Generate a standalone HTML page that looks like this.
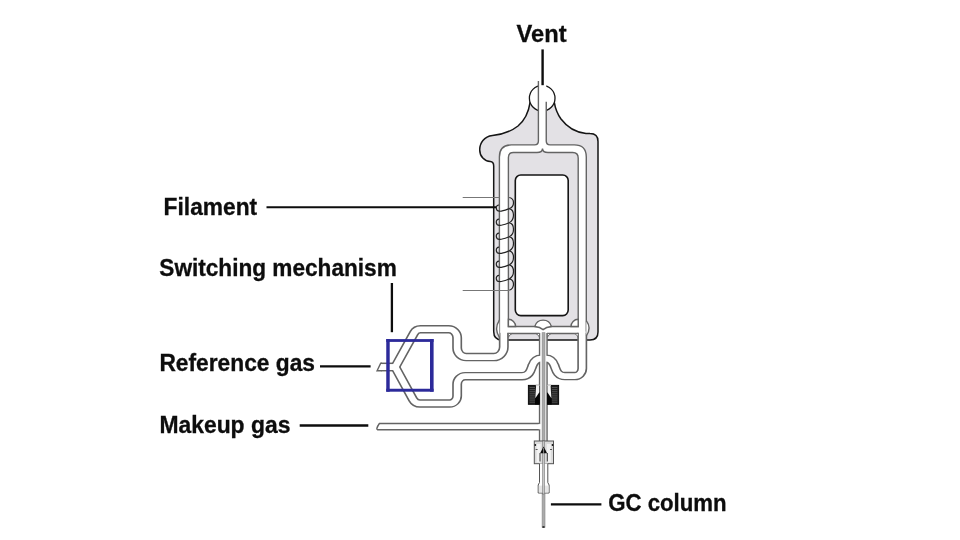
<!DOCTYPE html>
<html><head><meta charset="utf-8">
<style>
html,body{margin:0;padding:0;background:#fff;}
body{width:960px;height:540px;overflow:hidden;}
svg{display:block;}
text{font-family:"Liberation Sans",sans-serif;font-weight:bold;font-size:23px;fill:#0d0d0d;stroke:#0d0d0d;stroke-width:0.3px;}
</style></head>
<body>
<svg width="960" height="540" viewBox="0 0 960 540">
<rect width="960" height="540" fill="#fff"/>

<path d="M 530.1 102.3 C 528.8 111, 525 120, 518 126 C 511 131.5, 501 134.5, 492.5 135.5 C 484 136.5, 479.7 143, 479.7 149.7 C 479.7 156.5, 484.5 161.3, 490.3 161.6 C 492.6 161.8, 493.7 163.5, 493.7 166 L 493.7 331.5 Q 493.7 340 502 340 L 590 340 Q 598 340 598 332 L 598 141.5 Q 598 133.6 590 133.6 L 586 133.4 C 576 132.5, 567 127, 561 119 C 557.5 114, 555.2 108, 554.3 102.3 Z" fill="#e3e1e5" stroke="#151515" stroke-width="1.5"/>
<circle cx="542.2" cy="98.2" r="12.8" fill="#fff" stroke="#151515" stroke-width="1.3"/>
<!-- loop channel white region -->
<path d="M 499.4 333.5 V 157 Q 499.4 144.9 511.4 144.9 H 534.6 Q 538.4 144.9 538.4 141.1 V 80 H 546.25 V 141.1 Q 546.25 144.9 550.05 144.9 H 574.3 Q 586.3 144.9 586.3 157 V 333.5 Z" fill="#fff"/>
<path d="M 499.4 336 V 157 Q 499.4 144.9 511.4 144.9 H 534.6 Q 538.4 144.9 538.4 141.1 V 81 M 546.25 101.7 V 141.1 Q 546.25 144.9 550.05 144.9 H 574.3 Q 586.3 144.9 586.3 157 V 336 M 508.4 333.5 H 539.6 M 547 333.5 H 578.2" fill="none" stroke="#646464" stroke-width="1.4"/>
<!-- inner gray region -->
<path d="M 508.4 326.5 V 157.5 Q 508.4 152.5 513.4 152.5 H 537 Q 542.3 152.5 542.5 148.6 Q 542.7 152.5 548 152.5 H 572.7 Q 578.2 152.5 578.2 158 V 326.5 Z" fill="#e3e1e5" stroke="#646464" stroke-width="1.4"/>


<g fill="none" stroke="#646464" stroke-linejoin="round">
  <g transform="translate(500.0,0) scale(1.17,1) translate(-500.0,0)" stroke-width="8.5"><path d="M 503.25 332.70 L 503.25 347.10 C 503.25 352.62 499.42 357.10 494.70 357.10 L 471.07 357.10 C 466.82 357.10 463.38 353.07 463.38 348.10 L 463.38 337.75 C 463.38 333.06 460.12 329.25 456.11 329.25 L 432.09 329.25 C 429.75 329.25 427.60 330.73 426.47 333.12 L 410.43 367.05 L 398.29 367.05"/><path d="M 398.29 367.05 L 410.43 367.05 L 425.58 399.35 C 426.79 401.91 429.09 403.50 431.58 403.50 L 456.97 403.50 C 460.50 403.50 463.38 400.14 463.38 396.00 L 463.38 384.20 C 463.38 379.78 466.44 376.20 470.21 376.20 L 518.80 376.20 C 525.64 376.20 526.50 369.00 527.78 365.50 C 529.06 361.50 530.77 358.70 535.04 358.70"/><path d="M 570.30 332.70 L 570.30 368.60 C 570.30 372.74 567.43 376.10 563.89 376.10 L 555.47 376.10 C 548.63 376.10 547.78 369.00 546.50 365.50 C 545.21 361.50 543.50 358.70 539.32 358.70"/></g>
  <path d="M 543.3 333 V 441" stroke-width="8.9"/>
</g>
<g fill="none" stroke="#fff" stroke-linejoin="round">
  <g transform="translate(500.0,0) scale(1.17,1) translate(-500.0,0)" stroke-width="5.699999999999999"><path d="M 503.25 331.50 L 503.25 347.10 C 503.25 352.62 499.42 357.10 494.70 357.10 L 471.07 357.10 C 466.82 357.10 463.38 353.07 463.38 348.10 L 463.38 337.75 C 463.38 333.06 460.12 329.25 456.11 329.25 L 432.09 329.25 C 429.75 329.25 427.60 330.73 426.47 333.12 L 410.43 367.05 L 398.29 367.05"/><path d="M 398.29 367.05 L 410.43 367.05 L 425.58 399.35 C 426.79 401.91 429.09 403.50 431.58 403.50 L 456.97 403.50 C 460.50 403.50 463.38 400.14 463.38 396.00 L 463.38 384.20 C 463.38 379.78 466.44 376.20 470.21 376.20 L 518.80 376.20 C 525.64 376.20 526.50 369.00 527.78 365.50 C 529.06 361.50 530.77 358.70 535.04 358.70"/><path d="M 570.30 331.50 L 570.30 368.60 C 570.30 372.74 567.43 376.10 563.89 376.10 L 555.47 376.10 C 548.63 376.10 547.78 369.00 546.50 365.50 C 545.21 361.50 543.50 358.70 539.32 358.70"/></g>
  <path d="M 543.3 332 V 442" stroke-width="6.1"/>
</g>


<g fill="#fff" stroke="#646464" stroke-width="1.4">
  <path d="M 508.4 319.3 A 7.2 7.2 0 0 1 515.6 326.5 L 508.4 326.5 Z"/>
  <path d="M 578.2 319.3 A 7.2 7.2 0 0 0 571 326.5 L 578.2 326.5 Z"/>
  <path d="M 508.4 333.5 H 512.3 Q 509.5 334.5 508.4 337.3 Z" stroke-width="0.9"/>
  <path d="M 539.5 333.5 H 535.6 Q 538.4 334.5 539.5 337.3 Z" stroke-width="0.9"/>
  <path d="M 547.4 333.5 H 551.3 Q 548.5 334.5 547.4 337.3 Z" stroke-width="0.9"/>
  <path d="M 578.2 333.5 H 574.3 Q 577.1 334.5 578.2 337.3 Z" stroke-width="0.9"/>
  <path d="M 534.8 326.5 A 8.6 8.6 0 0 1 551.4 326.5 Q 546.2 327 543.1 329.6 Q 540 327 534.8 326.5 Z"/>
  <path d="M 499.4 320.1 Q 493.8 328.7 499.4 337.3"/>
  <path d="M 586.3 320.7 Q 591.9 328.3 586.3 335.9"/>
</g>

<rect x="515.3" y="175" width="52.9" height="140.6" rx="5.5" fill="#fff" stroke="#151515" stroke-width="1.6"/>

<path d="M 382 362.7 H 380.7 L 377.1 371.4 H 382 Z" fill="#fff"/>
<path d="M 382 363.3 H 380.7 L 377.1 370.8 H 382" fill="none" stroke="#646464" stroke-width="1.4"/>
<path d="M 539.5 423.5 H 379.4 Q 377.6 426 376.9 428.2 Q 376.6 429.8 378.6 429.8 H 539.5" fill="#fff" stroke="#646464" stroke-width="1.4"/>
<rect x="538.5" y="424.1" width="5" height="5.1" fill="#fff"/>

<rect x="542.1" y="332.7" width="2.9" height="194.6" fill="#ababab" stroke="#888" stroke-width="0.6"/><ellipse cx="543.5" cy="527" rx="1.3" ry="0.9" fill="#333"/>

<rect x="528.4" y="385.4" width="10.9" height="18.9" fill="#1e1e1e" stroke="#0a0a0a" stroke-width="1"/>
<rect x="547.5" y="385.4" width="11.1" height="18.9" fill="#1e1e1e" stroke="#0a0a0a" stroke-width="1"/>
<g stroke="#5a5a5a" stroke-width="0.8"><line x1="529.6" y1="387.5" x2="535" y2="387.5"/><line x1="552" y1="387.5" x2="557.4" y2="387.5"/><line x1="529.6" y1="389.6" x2="535" y2="389.6"/><line x1="552" y1="389.6" x2="557.4" y2="389.6"/><line x1="529.6" y1="391.7" x2="535" y2="391.7"/><line x1="552" y1="391.7" x2="557.4" y2="391.7"/><line x1="529.6" y1="393.8" x2="535" y2="393.8"/><line x1="552" y1="393.8" x2="557.4" y2="393.8"/><line x1="529.6" y1="395.9" x2="535" y2="395.9"/><line x1="552" y1="395.9" x2="557.4" y2="395.9"/><line x1="529.6" y1="398.0" x2="535" y2="398.0"/><line x1="552" y1="398.0" x2="557.4" y2="398.0"/><line x1="529.6" y1="400.1" x2="535" y2="400.1"/><line x1="552" y1="400.1" x2="557.4" y2="400.1"/><line x1="529.6" y1="402.2" x2="535" y2="402.2"/><line x1="552" y1="402.2" x2="557.4" y2="402.2"/></g>
<path d="M 535.2 398.3 L 537.3 396 L 539.6 392 V 404.4 H 535 Z" fill="#050505"/>
<path d="M 551.5 398.3 L 549.4 396 L 547.2 392 V 404.4 H 551.7 Z" fill="#050505"/>
<rect x="535.8" y="384.6" width="3.8" height="1.4" fill="#bbb"/>
<rect x="547.2" y="384.6" width="3.8" height="1.4" fill="#bbb"/>
<path d="M 536.1 385.6 L 539.3 385.6 L 539.3 392.3 L 535.3 398.2 L 535.8 391 Z" fill="#f4f4f4"/>
<path d="M 550.6 385.6 L 547.4 385.6 L 547.4 392.3 L 551.4 398.2 L 550.9 391 Z" fill="#f4f4f4"/>


<rect x="534.3" y="441" width="19.2" height="22.7" fill="#dcdcdc" stroke="#555" stroke-width="1"/>
<rect x="536.6" y="444" width="4" height="18.5" fill="#f3f3f3"/>
<rect x="546.8" y="444" width="4" height="18.5" fill="#f3f3f3"/>
<circle cx="535.3" cy="445" r="0.9" fill="#111"/>
<circle cx="552.5" cy="445" r="0.9" fill="#111"/>
<rect x="535.6" y="449" width="2" height="1" fill="#555"/>
<rect x="550" y="449" width="2" height="1" fill="#555"/>
<path d="M 539.5 463.6 V 482.5 L 538.2 485 V 493 H 549.1 V 485 L 547.8 482.5 V 463.6" fill="#fff" stroke="#555" stroke-width="1"/>
<rect x="538.8" y="485.6" width="9.7" height="6.9" fill="#e6e6e6"/>
<rect x="542.6" y="441" width="2" height="53" fill="#c8c8c8" stroke="#666" stroke-width="0.5"/>
<path d="M 543.6 446.4 L 540.1 453.3 H 547.1 Z" fill="#0a0a0a"/>
<line x1="543.6" y1="447.8" x2="543.6" y2="453.3" stroke="#d8d8d8" stroke-width="0.6"/>
<line x1="540" y1="453" x2="540" y2="461.5" stroke="#333" stroke-width="1"/>
<line x1="547.3" y1="453" x2="547.3" y2="461.5" stroke="#333" stroke-width="1"/>


<g fill="none" stroke-width="1">
  <line x1="462.7" y1="197.5" x2="499.5" y2="197.5" stroke="#777"/>
  <line x1="462.7" y1="290.5" x2="509" y2="290.5" stroke="#777"/>
</g>
<path d="M 509.3 197.5 C 514.9 198.6, 514.9 206.4, 509.3 208.6 M 509.3 208.6 C 514.9 210.0, 514.9 219.8, 509.3 222.7 M 509.3 222.7 C 514.9 224.1, 514.9 233.9, 509.3 236.7 M 509.3 236.7 C 514.9 238.1, 514.9 248.0, 509.3 250.8 M 509.3 250.8 C 514.9 252.2, 514.9 262.0, 509.3 264.8 M 509.3 264.8 C 514.9 266.2, 514.9 276.1, 509.3 278.9 M 509.3 278.9 C 514.9 280.0, 514.9 288.0, 509.3 290.3 M 509.3 208.6 C 505 210.2, 502 211.5, 499.4 211.2 M 499.4 211.2 C 495.3 211.2, 495.3 205.0, 499 205.0 M 509.3 222.7 C 505 224.3, 502 225.6, 499.4 225.3 M 499.4 225.3 C 495.3 225.3, 495.3 219.1, 499 219.1 M 509.3 236.7 C 505 238.3, 502 239.6, 499.4 239.3 M 499.4 239.3 C 495.3 239.3, 495.3 233.1, 499 233.1 M 509.3 250.8 C 505 252.4, 502 253.7, 499.4 253.4 M 499.4 253.4 C 495.3 253.4, 495.3 247.2, 499 247.2 M 509.3 264.8 C 505 266.4, 502 267.7, 499.4 267.4 M 499.4 267.4 C 495.3 267.4, 495.3 261.2, 499 261.2 M 509.3 278.9 C 505 280.5, 502 281.8, 499.4 281.5 M 499.4 281.5 C 495.3 281.5, 495.3 275.3, 499 275.3" fill="none" stroke="#222" stroke-width="1.2"/>


<g fill="#2c2a9a">
  <rect x="386.25" y="339.1" width="47.35" height="2.8"/>
  <rect x="386.25" y="388.75" width="47.35" height="2.95"/>
  <rect x="386.25" y="339" width="3.45" height="52.7"/>
  <rect x="430" y="339" width="3.6" height="52.7"/>
</g>


<g stroke="#0d0d0d" stroke-width="2">
  <line x1="542.6" y1="49.4" x2="542.6" y2="85.2" stroke-width="2.4"/>
  <line x1="266.5" y1="207.25" x2="496" y2="207.25" stroke-width="2.2"/>
  <line x1="391.9" y1="283" x2="391.9" y2="332.2" stroke-width="2.3"/>
  <line x1="320" y1="366.3" x2="370.6" y2="366.3" stroke-width="2.3"/>
  <line x1="299.7" y1="425.5" x2="368.3" y2="425.5" stroke-width="2.3"/>
  <line x1="550.9" y1="504.3" x2="601.4" y2="504.3" stroke-width="2.3"/>
</g>


<g style="filter:grayscale(1)">
<text x="516.6" y="41.9" textLength="50" lengthAdjust="spacingAndGlyphs">Vent</text>
<text x="163.6" y="215.1" textLength="93.6" lengthAdjust="spacingAndGlyphs">Filament</text>
<text x="159.3" y="276.3" textLength="237.5" lengthAdjust="spacingAndGlyphs">Switching mechanism</text>
<text x="159.4" y="370.5" textLength="155.6" lengthAdjust="spacingAndGlyphs">Reference gas</text>
<text x="159.4" y="432.5" textLength="131" lengthAdjust="spacingAndGlyphs">Makeup gas</text>
<text x="608.3" y="511.2" textLength="118.3" lengthAdjust="spacingAndGlyphs">GC column</text>
</g>

</svg>
</body></html>
